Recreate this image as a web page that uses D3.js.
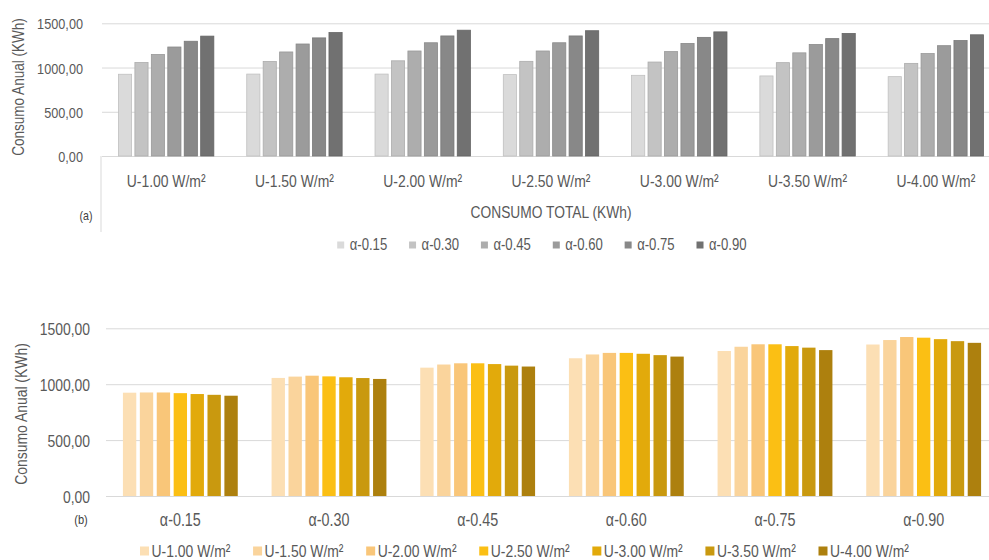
<!DOCTYPE html>
<html>
<head>
<meta charset="utf-8">
<script src="https://cdn.jsdelivr.net/npm/d3@7"></script>
<style>
  html, body { margin: 0; padding: 0; background: #ffffff; }
  svg { display: block; }
</style>
</head>
<body>
<svg id="chart" width="989" height="560"></svg>
<script>
// Annual consumption (kWh) per thermal transmittance U, one value per absorptance α
const uLabels = ["U-1.00 W/m²", "U-1.50 W/m²", "U-2.00 W/m²", "U-2.50 W/m²", "U-3.00 W/m²", "U-3.50 W/m²", "U-4.00 W/m²"];
const alphaLabels = ["α-0.15", "α-0.30", "α-0.45", "α-0.60", "α-0.75", "α-0.90"];
const u100 = [924, 1056, 1148, 1232, 1297, 1355];
const u150 = [926, 1068, 1176, 1266, 1335, 1395];
const u200 = [926, 1076, 1187, 1280, 1357, 1422];
const u250 = [920, 1070, 1187, 1280, 1357, 1416];
const u300 = [912, 1062, 1180, 1272, 1341, 1403];
const u350 = [905, 1055, 1166, 1260, 1327, 1385];
const u400 = [897, 1047, 1158, 1247, 1305, 1370];
const consumo = [u100, u150, u200, u250, u300, u350, u400];
const yTicks = [0, 500, 1000, 1500];

const grayColors = ["#dadada", "#c3c3c3", "#adadad", "#9b9b9b", "#888888", "#717171"];
const goldColors = ["#fcdfb4", "#fad49c", "#f9c679", "#fbbf14", "#e2aa0b", "#c9990f", "#ad800e"];

const fmt = d3.formatLocale({decimal: ",", thousands: "", grouping: [3], currency: ["", ""]}).format(".2f");
const FONT = "'Liberation Sans', Arial, sans-serif";
const NARROW = 0.82;

const svg = d3.select("#chart");

// narrow-set text helper
function label(g, x, y, str, size, opts = {}) {
  const rot = opts.rotate || 0;
  return g.append("text")
    .attr("transform", `translate(${x},${y}) rotate(${rot}) scale(${NARROW},1)`)
    .attr("text-anchor", opts.anchor || "middle")
    .attr("dominant-baseline", "central")
    .style("font-family", FONT)
    .style("font-size", size + "px")
    .style("fill", opts.fill || "#595959")
    .text(str);
}

function styleAxis(g, pad, size) {
  g.select(".domain").remove();
  g.selectAll(".tick line").attr("stroke", "#d9d9d9").attr("stroke-width", 1);
  g.selectAll(".tick text")
    .attr("x", -pad / NARROW)
    .attr("dy", null)
    .attr("dominant-baseline", "central")
    .attr("transform", `scale(${NARROW},1)`)
    .style("font-family", FONT)
    .style("font-size", size + "px")
    .style("fill", "#595959");
}

/* ---------- (a) grouped by U, series α (grays) ---------- */
{
  const left = 102, right = 1000, top = 23.3, bottom = 156;
  const g = svg.append("g");
  const x0 = d3.scaleBand().domain(uLabels).range([left, right]).padding(0);
  const x1 = d3.scaleBand().domain(alphaLabels).range([0, x0.bandwidth()])
    .paddingInner(0.2).paddingOuter(1.0);
  const y = d3.scaleLinear().domain([0, 1500]).range([bottom, top]);

  const ax = g.append("g").attr("transform", `translate(${left},0)`)
    .call(d3.axisLeft(y).tickValues(yTicks).tickFormat(fmt).tickSize(-(989 - left)).tickPadding(0));
  styleAxis(ax, 19, 15.5);

  // category frame line at the left of the axis labels
  g.append("line").attr("x1", left - 1).attr("x2", left - 1).attr("y1", bottom).attr("y2", 232)
    .attr("stroke", "#d9d9d9");

  g.selectAll("g.grp").data(consumo).join("g").attr("class", "grp")
    .attr("transform", (d, i) => `translate(${x0(uLabels[i])},0)`)
    .selectAll("rect").data(d => d.map((v, j) => ({v, j}))).join("rect")
    .attr("x", d => x1(alphaLabels[d.j]))
    .attr("width", x1.bandwidth())
    .attr("y", d => y(d.v))
    .attr("height", d => y(0) - y(d.v))
    .attr("fill", d => grayColors[d.j])
    .attr("stroke", d => d3.color(grayColors[d.j]).darker(0.35))
    .attr("stroke-width", 0.8);

  uLabels.forEach(u => label(g, x0(u) + x0.bandwidth() / 2, 181, u, 17));

  label(g, 551, 212, "CONSUMO TOTAL (KWh)", 16.8);
  label(g, 86, 216, "(a)", 13, {fill: "#404040"});
  label(g, 18, 87, "Consumo Anual (KWh)", 16.5, {rotate: -90});

  // legend
  const lx = d3.scalePoint().domain(alphaLabels).range([340.7, 700]);
  const lg = g.selectAll("g.leg").data(alphaLabels).join("g").attr("class", "leg")
    .attr("transform", d => `translate(${lx(d)},245)`);
  lg.append("rect").attr("x", -3.5).attr("y", -3.5).attr("width", 7).attr("height", 7)
    .attr("fill", (d, i) => grayColors[i]);
  lg.each(function(d) { label(d3.select(this), 9, 0, d, 16, {anchor: "start"}); });
}

/* ---------- (b) grouped by α, series U (golds) ---------- */
{
  const left = 106, right = 998, top = 328.3, bottom = 496;
  const g = svg.append("g");
  const x0 = d3.scaleBand().domain(alphaLabels).range([left, right]).padding(0);
  const x1 = d3.scaleBand().domain(uLabels).range([0, x0.bandwidth()])
    .paddingInner(0.21).paddingOuter(1.0);
  const y = d3.scaleLinear().domain([0, 1500]).range([bottom, top]);

  const ax = g.append("g").attr("transform", `translate(${left},0)`)
    .call(d3.axisLeft(y).tickValues(yTicks).tickFormat(fmt).tickSize(-(989 - left)).tickPadding(0));
  styleAxis(ax, 16, 17);

  const rows = alphaLabels.map((a, j) => consumo.map((row, i) => ({v: row[j], i})));
  g.selectAll("g.grp").data(rows).join("g").attr("class", "grp")
    .attr("transform", (d, j) => `translate(${x0(alphaLabels[j])},0)`)
    .selectAll("rect").data(d => d).join("rect")
    .attr("x", d => x1(uLabels[d.i]))
    .attr("width", x1.bandwidth())
    .attr("y", d => y(d.v))
    .attr("height", d => y(0) - y(d.v))
    .attr("fill", d => goldColors[d.i]);

  alphaLabels.forEach(a => label(g, x0(a) + x0.bandwidth() / 2, 520, a, 17.5));

  label(g, 81, 520, "(b)", 13.5, {fill: "#404040"});
  label(g, 21, 414, "Consumo Anual (KWh)", 17, {rotate: -90});

  // legend
  const lx = d3.scalePoint().domain(uLabels).range([144.5, 823]);
  const lg = g.selectAll("g.leg").data(uLabels).join("g").attr("class", "leg")
    .attr("transform", d => `translate(${lx(d)},551)`);
  lg.append("rect").attr("x", -4.5).attr("y", -4.5).attr("width", 9).attr("height", 9)
    .attr("fill", (d, i) => goldColors[i]);
  lg.each(function(d) { label(d3.select(this), 7, 0, d, 17, {anchor: "start"}); });
}
</script>
</body>
</html>
